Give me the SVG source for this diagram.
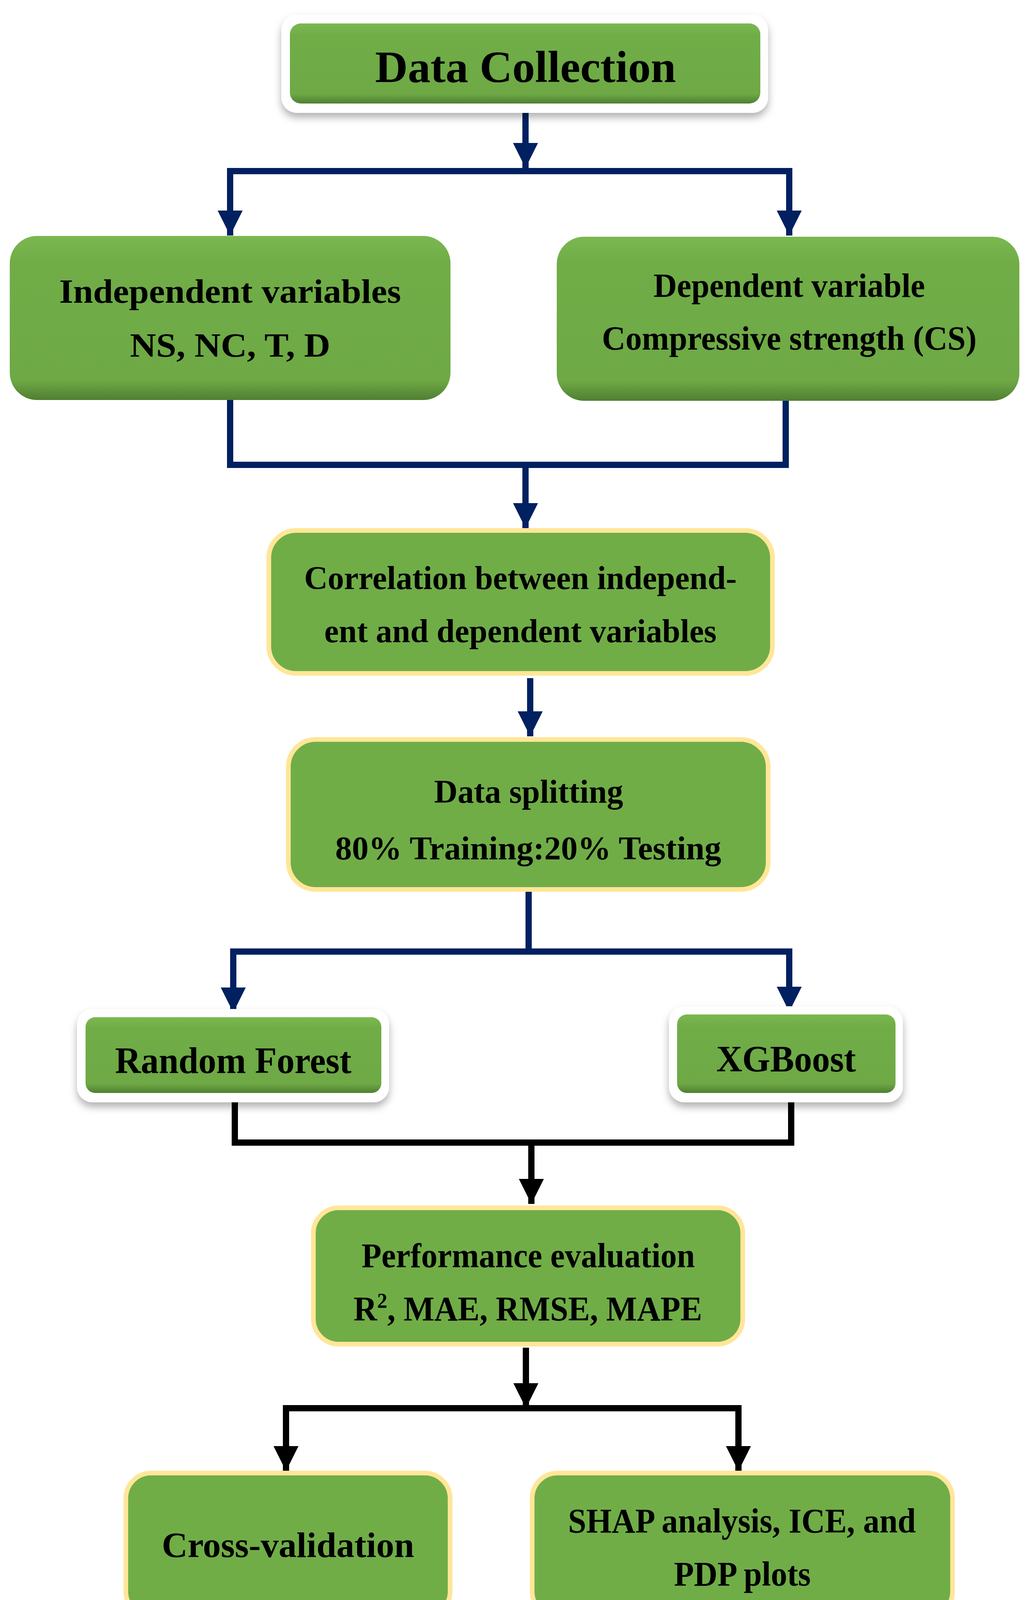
<svg xmlns="http://www.w3.org/2000/svg" width="2626" height="4662" viewBox="0 0 2626 4662">
<defs>
<linearGradient id="g" x1="0" y1="0" x2="0" y2="1"><stop offset="0" stop-color="#7BB850"/><stop offset="0.15" stop-color="#70AD47"/><stop offset="0.88" stop-color="#6EA945"/><stop offset="1" stop-color="#507E32"/></linearGradient>
<filter id="sh" x="-10%" y="-20%" width="120%" height="150%"><feDropShadow dx="0" dy="12" stdDeviation="10" flood-color="#000" flood-opacity="0.3"/></filter>
<marker id="an" viewBox="0 0 10 10" refX="10" refY="5" markerWidth="4.2" markerHeight="4" markerUnits="strokeWidth" orient="auto"><path d="M0,0L10,5L0,10z" fill="#002060"/></marker>
<marker id="ab" viewBox="0 0 10 10" refX="10" refY="5" markerWidth="4.2" markerHeight="4" markerUnits="strokeWidth" orient="auto"><path d="M0,0L10,5L0,10z" fill="#000"/></marker>
</defs>
<style>
text{font-family:"Liberation Serif","Times New Roman",serif;font-weight:bold;fill:#000;text-anchor:middle}
.frame{fill:#fff;filter:url(#sh)}
.gb{fill:url(#g)}
.yb{fill:#70AD47;stroke:#FFE699;stroke-width:12}
.n{fill:none;stroke:#002060;stroke-width:16}
.k{fill:none;stroke:#000;stroke-width:16}
</style>
<rect width="2626" height="4662" fill="#fff"/>
<g id="connectors">
<path class="n" d="M1345,289V430" marker-end="url(#an)"/>
<path class="n" d="M589,603V438H2020V603" stroke-width="18"/>
<path class="n" d="M589,540V603" marker-end="url(#an)"/>
<path class="n" d="M2020,540V603" marker-end="url(#an)"/>
<path class="n" d="M589,1024V1190H2011V1026" stroke-width="18"/>
<path class="n" d="M1345,1190V1352" marker-end="url(#an)"/>
<path class="n" d="M1357,1736V1885" marker-end="url(#an)"/>
<path class="n" d="M1353,2283V2436"/>
<path class="n" d="M597,2595V2436H2020V2595" stroke-width="18"/>
<path class="n" d="M597,2530V2592" marker-end="url(#an)"/>
<path class="n" d="M2020,2530V2590" marker-end="url(#an)"/>
<path class="k" d="M601,2800V2925H2025V2800"/>
<path class="k" d="M1360,2925V3082" marker-end="url(#ab)"/>
<path class="k" d="M1346,3450V3605"/>
<path class="k" d="M1346,3540V3605" marker-end="url(#ab)"/>
<path class="k" d="M732,3766V3605H1890V3766"/>
<path class="k" d="M732,3700V3766" marker-end="url(#ab)"/>
<path class="k" d="M1890,3700V3766" marker-end="url(#ab)"/>
<path class="k" d="M727,4150V4239H1888V4150"/>
<path class="k" d="M1346,4239V4408" marker-end="url(#ab)"/>
</g>
<g id="data-collection">
<rect class="frame" x="720" y="37" width="1246" height="252" rx="40"/>
<rect class="gb" x="742" y="60" width="1204" height="205" rx="28"/>
<text x="1345" y="210" font-size="115" textLength="770" lengthAdjust="spacingAndGlyphs">Data Collection</text>
</g>
<g id="independent">
<rect class="gb" x="25" y="604" width="1128" height="420" rx="70"/>
<text x="589" y="775" font-size="86" textLength="875" lengthAdjust="spacingAndGlyphs">Independent variables</text>
<text x="589" y="913" font-size="86" textLength="513" lengthAdjust="spacingAndGlyphs">NS, NC, T, D</text>
</g>
<g id="dependent">
<rect class="gb" x="1425" y="606" width="1184" height="420" rx="70"/>
<text x="2020" y="760" font-size="86" textLength="695" lengthAdjust="spacingAndGlyphs">Dependent variable</text>
<text x="2020" y="895" font-size="86" textLength="959" lengthAdjust="spacingAndGlyphs">Compressive strength (CS)</text>
</g>
<g id="correlation">
<rect class="yb" x="688" y="1358" width="1289" height="366" rx="70"/>
<text x="1332" y="1508" font-size="84" textLength="1107" lengthAdjust="spacingAndGlyphs">Correlation between independ-</text>
<text x="1332" y="1644" font-size="84" textLength="1004" lengthAdjust="spacingAndGlyphs">ent and dependent variables</text>
</g>
<g id="data-splitting">
<rect class="yb" x="738" y="1893" width="1228" height="384" rx="70"/>
<text x="1353" y="2055" font-size="84" textLength="484" lengthAdjust="spacingAndGlyphs">Data splitting</text>
<text x="1352" y="2200" font-size="84" textLength="988" lengthAdjust="spacingAndGlyphs">80% Training:20% Testing</text>
</g>
<g id="random-forest">
<rect class="frame" x="197" y="2583" width="799" height="239" rx="40"/>
<rect class="gb" x="219" y="2604" width="757" height="194" rx="25"/>
<text x="597" y="2747" font-size="96" textLength="605" lengthAdjust="spacingAndGlyphs">Random Forest</text>
</g>
<g id="xgboost">
<rect class="frame" x="1712" y="2576" width="599" height="246" rx="40"/>
<rect class="gb" x="1733" y="2597" width="559" height="201" rx="25"/>
<text x="2012" y="2743" font-size="96" textLength="357" lengthAdjust="spacingAndGlyphs">XGBoost</text>
</g>
<g id="performance">
<rect class="yb" x="802" y="3092" width="1099" height="349" rx="65"/>
<text x="1352" y="3244" font-size="88" textLength="853" lengthAdjust="spacingAndGlyphs">Performance evaluation</text>
<text x="1351" y="3380" font-size="88" textLength="892" lengthAdjust="spacingAndGlyphs">R<tspan font-size="55" dy="-32">2</tspan><tspan dy="32">, MAE, RMSE, MAPE</tspan></text>
</g>
<g id="cross-validation">
<rect class="yb" x="322" y="3771" width="830" height="368" rx="65"/>
<text x="737" y="3986" font-size="92" textLength="646" lengthAdjust="spacingAndGlyphs">Cross-validation</text>
</g>
<g id="shap">
<rect class="yb" x="1362" y="3771" width="1076" height="368" rx="65"/>
<text x="1899" y="3923" font-size="88" textLength="890" lengthAdjust="spacingAndGlyphs">SHAP analysis, ICE, and</text>
<text x="1900" y="4059" font-size="88" textLength="350" lengthAdjust="spacingAndGlyphs">PDP plots</text>
</g>
<g id="best-estimator">
<rect class="frame" x="931" y="4415" width="841" height="230" rx="40"/>
<rect class="gb" x="954" y="4436" width="796" height="185" rx="25"/>
<text x="1354" y="4579" font-size="105" textLength="614" lengthAdjust="spacingAndGlyphs">Best estimator</text>
</g>
</svg>
